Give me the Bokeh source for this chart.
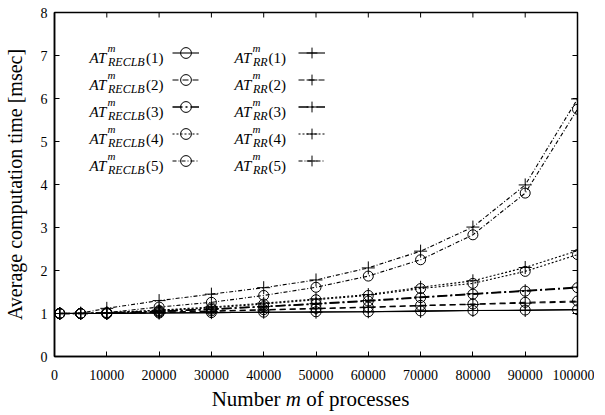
import math
from bokeh.plotting import figure
from bokeh.layouts import column
from bokeh.models import (Range1d, FixedTicker, BasicTickFormatter,
                          Label, Legend, LegendItem, Div)
from bokeh.embed import file_html
from bokeh.resources import INLINE

# ---------------- data ----------------
processes = [1000, 5000, 10000, 20000, 30000, 40000, 50000, 60000, 70000, 80000, 90000, 100000]

reclb_1 = [1.00, 1.00, 1.00, 1.01, 1.02, 1.03, 1.04, 1.04, 1.06, 1.07, 1.08, 1.09]
rr_1    = [1.00, 1.00, 1.00, 1.01, 1.02, 1.03, 1.03, 1.04, 1.05, 1.07, 1.07, 1.09]
reclb_2 = [1.00, 1.00, 1.00, 1.03, 1.06, 1.09, 1.12, 1.15, 1.19, 1.22, 1.26, 1.29]
rr_2    = [1.00, 1.00, 1.00, 1.02, 1.05, 1.08, 1.11, 1.14, 1.18, 1.21, 1.24, 1.27]
reclb_3 = [1.00, 1.00, 1.01, 1.05, 1.10, 1.16, 1.22, 1.29, 1.37, 1.45, 1.52, 1.60]
rr_3    = [1.00, 1.00, 1.01, 1.05, 1.10, 1.16, 1.23, 1.30, 1.38, 1.46, 1.53, 1.61]
reclb_4 = [1.00, 1.00, 1.01, 1.07, 1.13, 1.22, 1.32, 1.42, 1.58, 1.70, 1.98, 2.37]
rr_4    = [1.00, 1.00, 1.02, 1.08, 1.15, 1.24, 1.34, 1.44, 1.61, 1.76, 2.07, 2.46]
reclb_5 = [1.00, 1.00, 1.02, 1.15, 1.26, 1.42, 1.61, 1.87, 2.25, 2.83, 3.80, 5.75]
rr_5    = [1.00, 1.01, 1.12, 1.30, 1.45, 1.60, 1.78, 2.06, 2.45, 3.01, 3.99, 5.99]

reclb_series = [reclb_1, reclb_2, reclb_3, reclb_4, reclb_5]
rr_series = [rr_1, rr_2, rr_3, rr_4, rr_5]
series_numbers = ["(1)", "(2)", "(3)", "(4)", "(5)"]

x_ticks = [0, 10000, 20000, 30000, 40000, 50000, 60000, 70000, 80000, 90000, 100000]
y_ticks = [0, 1, 2, 3, 4, 5, 6, 7, 8]
x_min, x_max = 0, 100000
y_min, y_max = 0, 8

x_label_html = "Number <i>m</i> of processes"
y_label = "Average computation time [msec]"

# ---------------- styles ----------------
FONT = "Liberation Serif"
dashes = ["solid", "6 4", "10 3 2 3", "2 2", "4 2 1 2"]
widths = [1.1, 1.1, 1.5, 1.1, 1.1]

p = figure(frame_width=523, frame_height=344,
           x_range=Range1d(x_min, x_max), y_range=Range1d(y_min, y_max),
           output_backend="svg", toolbar_location=None,
           min_border_left=49, min_border_right=17,
           min_border_top=12, min_border_bottom=33)

p.xgrid.visible = False
p.ygrid.visible = False
p.outline_line_color = "black"
p.outline_line_width = 1.5
p.background_fill_color = "white"
p.border_fill_color = "white"

for ax in (p.xaxis[0], p.yaxis[0]):
    ax.axis_line_color = "black"
    ax.axis_line_width = 1.5
    ax.major_tick_in = 5
    ax.major_tick_out = 0
    ax.major_tick_line_color = "black"
    ax.minor_tick_line_color = None
    ax.major_label_text_font = FONT
    ax.major_label_text_font_size = "14px"
    ax.major_label_text_color = "black"

p.xaxis[0].ticker = FixedTicker(ticks=x_ticks)
p.xaxis[0].formatter = BasicTickFormatter(use_scientific=False)
p.xaxis[0].major_label_standoff = 13
p.yaxis[0].ticker = FixedTicker(ticks=y_ticks)
p.yaxis[0].major_label_standoff = 7
p.yaxis[0].axis_label = y_label
p.yaxis[0].axis_label_text_font = FONT
p.yaxis[0].axis_label_text_font_size = "20px"
p.yaxis[0].axis_label_text_font_style = "normal"
p.yaxis[0].axis_label_text_color = "black"
p.yaxis[0].axis_label_standoff = 12

# mirrored inward ticks on the top and right edges (half of each dash is clipped by the frame)
p.scatter(x_ticks, [y_max] * len(x_ticks), marker="dash", angle=math.pi / 2, size=10,
          line_color="black", line_width=1)
p.scatter([x_max] * len(y_ticks), y_ticks, marker="dash", size=10,
          line_color="black", line_width=1)

# ---------------- data glyphs ----------------
reclb_items = []
rr_items = []
for i in range(5):
    lr = p.line(processes, reclb_series[i], line_color="black", line_width=widths[i], line_dash=dashes[i])
    sr = p.scatter(processes, reclb_series[i], marker="circle", size=10,
                   line_color="black", fill_color=None, line_width=1)
    reclb_items.append(LegendItem(label=" ", renderers=[lr, sr]))
    lr2 = p.line(processes, rr_series[i], line_color="black", line_width=widths[i], line_dash=dashes[i])
    sr2 = p.scatter(processes, rr_series[i], marker="cross", size=13,
                    line_color="black", line_width=1)
    rr_items.append(LegendItem(label=" ", renderers=[lr2, sr2]))

# ---------------- legend (two columns, glyph to the right of text) ----------------
def make_legend(items, loc):
    return Legend(items=items, location=loc, orientation="vertical",
                  glyph_width=27, glyph_height=27, spacing=0, padding=0, margin=0,
                  label_standoff=0, label_width=0, label_height=27,
                  label_text_font=FONT, label_text_font_size="15px",
                  background_fill_alpha=0, border_line_alpha=0)

p.add_layout(make_legend(reclb_items, (118, 182)))
p.add_layout(make_legend(rr_items, (244, 182)))

# frame-relative helper: page px -> frame screen coords
FL, FB = 55, 356

def lab(text, px, py, size, style="normal", align="left"):
    p.add_layout(Label(x=px - FL, y=FB - py, x_units="screen", y_units="screen",
                       text=text, text_font=FONT, text_font_size=size,
                       text_font_style=style, text_color="black",
                       text_align=align, text_baseline="alphabetic"))

for i in range(5):
    yc = 52 + 27 * i
    # column 1: AT^m_RECLB(i)
    lab("AT", 90, yc + 5, "15px", "italic")
    lab("m", 108, yc - 5, "11px", "italic")
    lab("RECLB", 108.5, yc + 9, "12px", "italic")
    lab(series_numbers[i], 146.5, yc + 5, "15px")
    # column 2: AT^m_RR(i)
    lab("AT", 235, yc + 5, "15px", "italic")
    lab("m", 253, yc - 5, "11px", "italic")
    lab("RR", 253.5, yc + 9, "12px", "italic")
    lab(series_numbers[i], 269, yc + 5, "15px")

# x axis label (with italic m) below the plot
xlab = Div(text=x_label_html, width=523, height=18, margin=(0, 0, 0, 49),
           styles={"text-align": "center", "font-family": FONT, "font-size": "21px",
                   "line-height": "21px", "color": "black", "white-space": "nowrap",
                   "overflow": "visible"})

layout = column(p, xlab, spacing=0)
open("out.html", "w").write(file_html(layout, INLINE))
